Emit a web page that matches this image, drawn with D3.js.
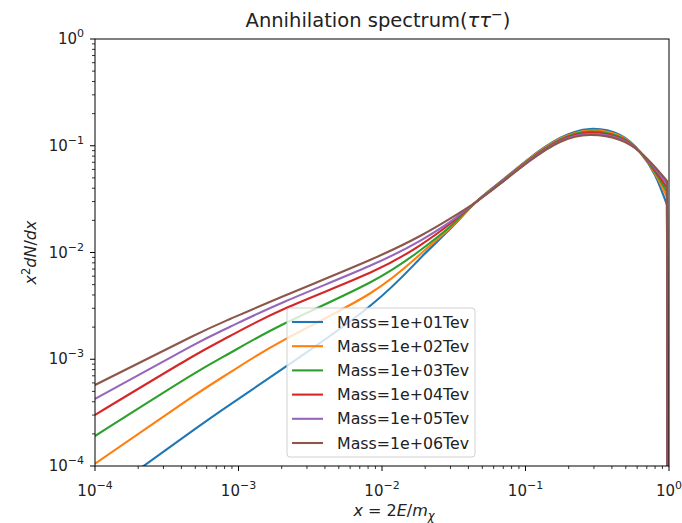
<!DOCTYPE html>
<html><head><meta charset="utf-8">
<script src="https://cdn.jsdelivr.net/npm/d3@7"></script>
<style>body{margin:0;background:#fff}svg{display:block}text{font-family:"DejaVu Sans",sans-serif}</style>
</head><body><svg id="c" width="682" height="523"></svg>
<script>
const xGrid = [1e-4, 4.59e-4, 8.73e-4, 2.11e-3, 8.24e-3, 1.84e-2, 2.98e-2, 4.52e-2, 6.64e-2, 0.107, 0.174, 0.281, 0.456, 0.628, 0.798, 0.968, 0.985];
const masses = ["1e+01", "1e+02", "1e+03", "1e+04", "1e+05", "1e+06"];
const seriesBlue   = [4.7e-5,  2.055e-4, 3.76e-4, 8.42e-4, 3.153e-3, 8.785e-3, 1.660e-2, 2.97e-2, 4.57e-2, 7.68e-2, 0.1182, 0.1435, 0.1262, 0.0874, 0.0532, 0.0279, 1e-7];
const seriesOrange = [1.05e-4, 4.298e-4, 7.53e-4, 1.534e-3, 4.129e-3, 9.58e-3, 1.696e-2, 2.97e-2, 4.53e-2, 7.58e-2, 0.1162, 0.1390, 0.1235, 0.0874, 0.0551, 0.0331, 1e-7];
const seriesGreen  = [1.91e-4, 6.94e-4, 1.144e-3, 2.172e-3, 5.236e-3, 1.044e-2, 1.752e-2, 2.97e-2, 4.49e-2, 7.48e-2, 0.1142, 0.1360, 0.1208, 0.0874, 0.0570, 0.0369, 1e-7];
const seriesRed    = [3.01e-4, 1.027e-3, 1.651e-3, 2.988e-3, 6.452e-3, 1.168e-2, 1.861e-2, 2.97e-2, 4.46e-2, 7.39e-2, 0.1123, 0.1331, 0.1183, 0.0874, 0.0590, 0.0402, 1e-7];
const seriesPurple = [4.25e-4, 1.308e-3, 2.014e-3, 3.475e-3, 7.505e-3, 1.287e-2, 1.934e-2, 2.97e-2, 4.42e-2, 7.29e-2, 0.1103, 0.1288, 0.1157, 0.0874, 0.0611, 0.0438, 1e-7];
const seriesBrown  = [5.74e-4, 1.599e-3, 2.382e-3, 3.956e-3, 8.506e-3, 1.427e-2, 2.078e-2, 2.97e-2, 4.38e-2, 7.20e-2, 0.1084, 0.1262, 0.1132, 0.0874, 0.0632, 0.0468, 1e-7];
const allSeries = [seriesBlue, seriesOrange, seriesGreen, seriesRed, seriesPurple, seriesBrown];
const colors = ["#1f77b4", "#ff7f0e", "#2ca02c", "#d62728", "#9467bd", "#8c564b"];
const majorTickExps = [-4, -3, -2, -1, 0];

const svg = d3.select("#c");
const L = 95, R = 669, T = 39, B = 466;
const x = d3.scaleLog().domain([1e-4, 1]).range([L, R]);
const y = d3.scaleLog().domain([1e-4, 1]).range([B, T]);

svg.append("defs").append("clipPath").attr("id", "clip")
  .append("rect").attr("x", L).attr("y", T).attr("width", R - L).attr("height", B - T);

const line = d3.line().curve(d3.curveNatural).x(d => x(d[0])).y(d => y(d[1]));
const g = svg.append("g").attr("clip-path", "url(#clip)");
allSeries.forEach((s, i) => {
  const pts = xGrid.map((xv, j) => [xv, s[j]]);
  const last = pts[pts.length - 1];
  const d = line(pts.slice(0, -1)) + "L" + x(last[0]) + "," + y(last[1]);
  g.append("path").attr("d", d).attr("fill", "none").attr("stroke", colors[i])
    .attr("stroke-width", 2.1).attr("stroke-linejoin", "round").attr("stroke-linecap", "butt");
});

// minor ticks
const minors = [];
for (let e = -4; e < 0; e++) for (let k = 2; k <= 9; k++) minors.push(k * Math.pow(10, e));
const ax = svg.append("g").attr("stroke", "#000");
minors.forEach(v => {
  ax.append("line").attr("x1", x(v)).attr("x2", x(v)).attr("y1", B).attr("y2", B + 3).attr("stroke-width", 0.8);
  ax.append("line").attr("y1", y(v)).attr("y2", y(v)).attr("x1", L).attr("x2", L - 3).attr("stroke-width", 0.8);
});
majorTickExps.forEach(e => {
  const v = Math.pow(10, e);
  ax.append("line").attr("x1", x(v)).attr("x2", x(v)).attr("y1", B).attr("y2", B + 5).attr("stroke-width", 1);
  ax.append("line").attr("y1", y(v)).attr("y2", y(v)).attr("x1", L).attr("x2", L - 5).attr("stroke-width", 1);
});
svg.append("rect").attr("x", L).attr("y", T).attr("width", R - L).attr("height", B - T)
  .attr("fill", "none").attr("stroke", "#000").attr("stroke-width", 1);

function powLabel(sel, e) {
  sel.append("tspan").text("10");
  sel.append("tspan").attr("dy", -7).attr("font-size", 11).text(e === 0 ? "0" : "\u2212" + Math.abs(e));
}
majorTickExps.forEach(e => {
  const v = Math.pow(10, e);
  const t = svg.append("text").attr("x", x(v)).attr("y", B + 30).attr("text-anchor", "middle")
    .attr("font-size", 15).attr("fill", "#222");
  powLabel(t, e);
  const t2 = svg.append("text").attr("x", L - 11).attr("y", y(v) + 5).attr("text-anchor", "end")
    .attr("font-size", 15).attr("fill", "#222");
  powLabel(t2, e);
});

// title
const title = svg.append("text").attr("x", (L + R) / 2 - 4).attr("y", 27).attr("text-anchor", "middle")
  .attr("font-size", 19.5).attr("fill", "#222");
title.append("tspan").text("Annihilation spectrum(");
title.append("tspan").attr("font-style", "italic").text("\u03c4\u03c4");
title.append("tspan").attr("dy", -8).attr("font-size", 14).text("\u2212");
title.append("tspan").attr("dy", 8).text(")");

// x label
const xl = svg.append("text").attr("x", (L + R) / 2 + 12).attr("y", 516).attr("text-anchor", "middle")
  .attr("font-size", 16).attr("fill", "#222");
xl.append("tspan").attr("font-style", "italic").text("x");
xl.append("tspan").text(" = 2");
xl.append("tspan").attr("font-style", "italic").text("E");
xl.append("tspan").text("/");
xl.append("tspan").attr("font-style", "italic").text("m");
xl.append("tspan").attr("font-style", "italic").attr("dy", 4).attr("font-size", 11.5).text("\u03c7");

// y label
const yl = svg.append("text").attr("transform", `translate(36,${(T + B) / 2}) rotate(-90)`)
  .attr("text-anchor", "middle").attr("font-size", 16).attr("fill", "#222");
yl.append("tspan").attr("font-style", "italic").text("x");
yl.append("tspan").attr("dy", -6).attr("font-size", 11.5).text("2");
yl.append("tspan").attr("dy", 6).attr("font-style", "italic").text("dN");
yl.append("tspan").text("/");
yl.append("tspan").attr("font-style", "italic").text("dx");

// legend
const lg = svg.append("g");
lg.append("rect").attr("x", 287).attr("y", 308).attr("width", 188).attr("height", 149)
  .attr("rx", 3).attr("fill", "#fff").attr("fill-opacity", 0.8).attr("stroke", "#d0d0d0").attr("stroke-width", 1);
masses.forEach((m, i) => {
  const cy = 322 + i * 24.2;
  lg.append("line").attr("x1", 292).attr("x2", 323).attr("y1", cy).attr("y2", cy)
    .attr("stroke", colors[i]).attr("stroke-width", 2.1);
  lg.append("text").attr("x", 337).attr("y", cy + 5.5).attr("font-size", 15.8).attr("fill", "#222")
    .text("Mass=" + m + "Tev");
});
</script></body></html>
